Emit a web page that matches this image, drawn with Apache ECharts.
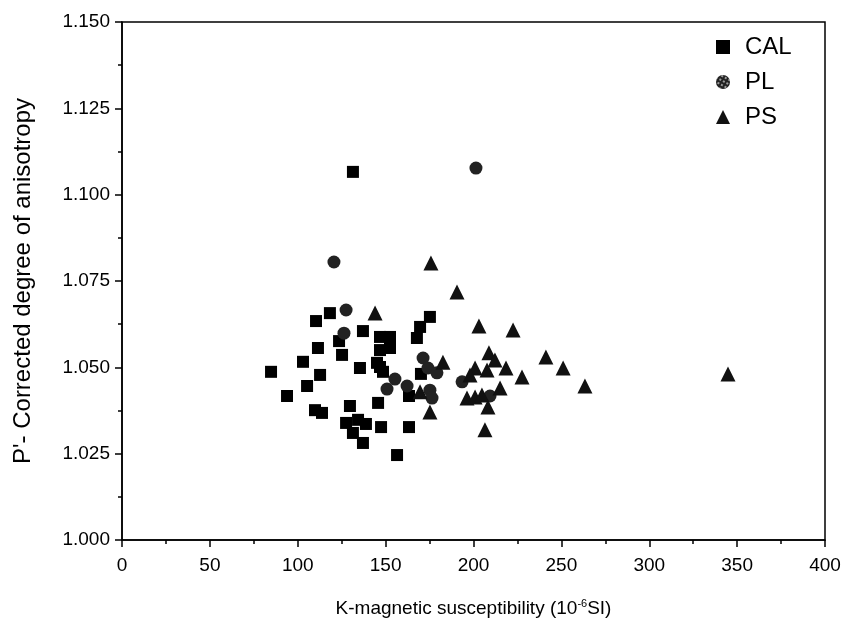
<!DOCTYPE html>
<html>
<head>
<meta charset="utf-8">
<script src="https://cdn.jsdelivr.net/npm/echarts@6/dist/echarts.min.js"></script>
<style>html,body{margin:0;padding:0;background:#fff}#c{width:844px;height:628px}</style>
</head>
<body>
<div id="c"></div>
<script>
const calData = [
  [131.4,1.1066],[84.8,1.0487],[93.9,1.0417],[103.0,1.0516],[105.3,1.0446],
  [110.4,1.0634],[111.5,1.0556],[112.7,1.0478],[109.8,1.0376],[113.8,1.0368],
  [118.3,1.0657],[123.5,1.0576],[125.2,1.0536],[127.5,1.0339],[129.7,1.0388],
  [131.4,1.0310],[134.3,1.0348],[137.1,1.0281],[138.8,1.0336],[137.1,1.0605],
  [135.4,1.0498],[145.7,1.0397],[147.4,1.0327],[145.1,1.0513],[146.8,1.0501],
  [148.5,1.0487],[146.8,1.0588],[152.5,1.0588],[146.8,1.0550],[152.5,1.0556],
  [156.5,1.0246],[163.3,1.0327],[163.3,1.0417],[167.8,1.0585],[169.6,1.0617],
  [175.2,1.0646],[170.1,1.0481]
];
const plData = [
  [120.6,1.0805],[201.4,1.1077],[127.5,1.0666],[126.3,1.0599],[150.8,1.0437],
  [155.3,1.0466],[162.2,1.0446],[171.3,1.0527],[174.1,1.0498],[175.2,1.0434],
  [176.4,1.0411],[179.2,1.0484],[193.5,1.0458],[209.4,1.0417]
];
const psData = [
  [144.0,1.0657],[175.8,1.0802],[190.6,1.0718],[203.1,1.0620],[222.5,1.0608],
  [208.8,1.0542],[182.6,1.0515],[200.9,1.0498],[207.7,1.0492],[218.5,1.0498],
  [227.6,1.0472],[241.2,1.0530],[251.0,1.0498],[263.4,1.0446],[344.8,1.0481],
  [215.1,1.0440],[196.3,1.0411],[200.9,1.0414],[204.8,1.0420],[208.2,1.0385],
  [206.5,1.0319],[175.2,1.0371],[169.6,1.0429],[198.0,1.0478],[212.2,1.0521]
];
const seriesNames = ['CAL','PL','PS'];

const FONT = 'Liberation Sans, Arial, sans-serif';
const chart = echarts.init(document.getElementById('c'));
const dotDecal = {symbol:'circle', symbolSize:0.45, color:'rgba(255,255,255,0.8)', dashArrayX:[4,0], dashArrayY:[4,0], rotation:0.5};
chart.setOption({
  animation:false,
  backgroundColor:'#fff',
  grid:{left:122,right:19,top:22,bottom:88,show:true,borderColor:'#000',borderWidth:1.5,backgroundColor:'transparent'},
  legend:{
    orient:'vertical', left:711, top:30, itemGap:11, itemWidth:14, itemHeight:14,
    textStyle:{fontFamily:FONT, fontSize:24, color:'#000', lineHeight:24, padding:[0,0,0,10]},
    data:[{name:seriesNames[0],icon:'rect'},{name:seriesNames[1],icon:'circle'},{name:seriesNames[2],icon:'triangle'}]
  },
  xAxis:{
    type:'value', min:0, max:400, interval:50,
    name:'K-magnetic susceptibility (10{sup|-6}SI)', nameLocation:'middle', nameGap:58,
    nameTextStyle:{fontFamily:FONT, fontSize:19, color:'#000',
      rich:{sup:{fontFamily:FONT, fontSize:11, verticalAlign:'top', padding:[0,0,10,0], color:'#000'}}},
    axisLine:{lineStyle:{color:'#000',width:1.5}},
    axisTick:{length:7,lineStyle:{color:'#000',width:1.5}},
    minorTick:{show:true,splitNumber:2,length:4,lineStyle:{color:'#000',width:1.5}},
    axisLabel:{fontFamily:FONT, fontSize:19, color:'#000', margin:16},
    splitLine:{show:false}
  },
  yAxis:{
    type:'value', min:1.0, max:1.15, interval:0.025,
    name:"P'- Corrected degree of anisotropy", nameLocation:'middle', nameGap:87,
    nameTextStyle:{fontFamily:FONT, fontSize:24, color:'#000'},
    axisLine:{lineStyle:{color:'#000',width:1.5}},
    axisTick:{length:7,lineStyle:{color:'#000',width:1.5}},
    minorTick:{show:true,splitNumber:2,length:4,lineStyle:{color:'#000',width:1.5}},
    axisLabel:{fontFamily:FONT, fontSize:19, color:'#000', margin:12, formatter:v=>v.toFixed(3)},
    splitLine:{show:false}
  },
  series:[
    {name:seriesNames[0], type:'scatter', symbol:'rect', symbolSize:12, data:calData, itemStyle:{color:'#000',opacity:1}},
    {name:seriesNames[1], type:'scatter', symbol:'circle', symbolSize:13, data:plData, itemStyle:{color:'#222',opacity:1,decal:dotDecal}},
    {name:seriesNames[2], type:'scatter', symbol:'triangle', symbolSize:15, data:psData, itemStyle:{color:'#111',opacity:1}}
  ]
});
</script>
</body>
</html>
